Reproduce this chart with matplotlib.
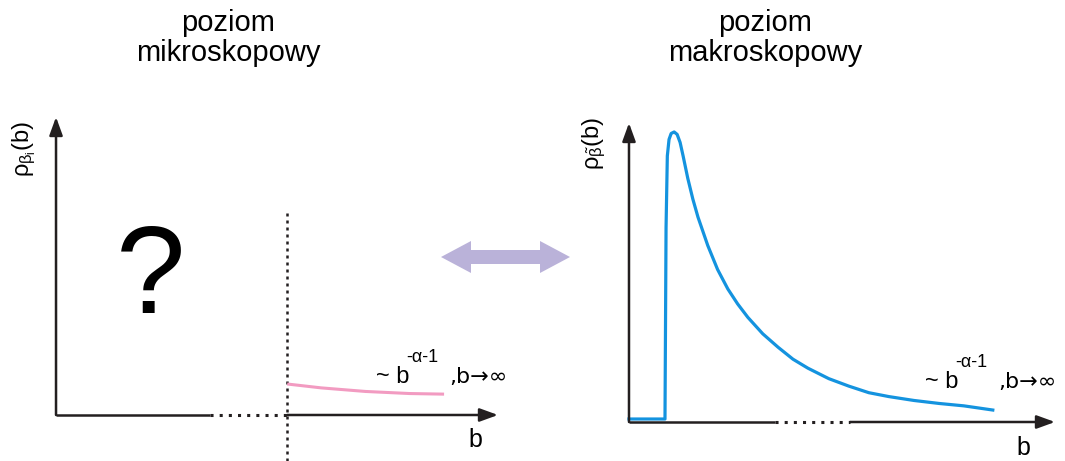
import numpy as np
import matplotlib
matplotlib.use("Agg")
import matplotlib.pyplot as plt
from matplotlib.patches import Polygon

plt.rcParams['font.family'] = ['Liberation Sans', 'DejaVu Sans']
plt.rcParams['mathtext.fontset'] = 'custom'
plt.rcParams['mathtext.rm'] = 'Liberation Sans'
plt.rcParams['mathtext.it'] = 'Liberation Sans'
plt.rcParams['mathtext.bf'] = 'Liberation Sans:bold'

# --- data (schematic units, 0..10 on both axes) ---
# microscopic level: only the tail is known
b_micro = [5.23, 6.0, 7.0, 8.0, 8.78]
rho_micro = [1.04, 0.91, 0.79, 0.72, 0.70]
b_cut = 5.23              # vertical dashed line
gap_micro = (3.48, 5.23)  # dotted part of the b axis

# macroscopic level: full distribution
b_macro = [0.0, 0.845, 0.87, 0.90, 0.94, 0.99, 1.06, 1.13, 1.20, 1.27, 1.38,
           1.50, 1.62, 1.85, 2.08, 2.32, 2.55, 2.79, 3.14, 3.50, 3.85, 4.20,
           4.69, 5.16, 5.63, 6.10, 6.69, 7.28, 7.86, 8.54]
rho_macro = [0.10, 0.10, 6.50, 8.90, 9.45, 9.65, 9.70, 9.62, 9.35, 8.90, 8.15,
             7.45, 6.85, 5.90, 5.10, 4.45, 3.95, 3.50, 2.95, 2.50, 2.10, 1.80,
             1.45, 1.20, 0.98, 0.85, 0.72, 0.62, 0.54, 0.40]
gap_macro = (3.43, 5.19)

AX_COL = '#231f20'
PINK = '#f29bc1'
BLUE = '#1493df'
LAV = '#bab2d9'

fig = plt.figure(figsize=(10.65, 4.61), dpi=100)

# overlay in pixel units for the double arrow and the texts
ov = fig.add_axes([0, 0, 1, 1])
ov.set_xlim(0, 1065)
ov.set_ylim(461, 0)
ov.axis('off')

ax1 = fig.add_axes([0.0526, 0.0998, 0.415, 0.6464])
ax2 = fig.add_axes([0.5906, 0.0846, 0.400, 0.6486])

arrow_kw = dict(arrowstyle='-|>,head_length=1.1,head_width=0.4', color=AX_COL,
                lw=1.8, shrinkA=0, shrinkB=0, mutation_scale=10)


def draw_axes(ax, gap):
    ax.set_xlim(0, 10)
    ax.set_ylim(0, 10)
    ax.axis('off')
    # y axis with arrow
    ax.annotate('', xy=(0, 10), xytext=(0, 0), arrowprops=arrow_kw,
                annotation_clip=False)
    # b axis: solid - dotted - solid with arrow
    ax.plot([0, gap[0]], [0, 0], color=AX_COL, lw=1.8, solid_capstyle='butt',
            clip_on=False)
    ax.plot([gap[0], gap[1]], [0, 0], color=AX_COL, lw=2.2,
            linestyle=(0, (1, 2.0)), clip_on=False)
    ax.annotate('', xy=(10, 0), xytext=(gap[1], 0), arrowprops=arrow_kw,
                annotation_clip=False)


draw_axes(ax1, gap_micro)
draw_axes(ax2, gap_macro)

# left panel
ax1.plot([b_cut, b_cut], [-1.55, 6.8], color=AX_COL, lw=1.8,
         linestyle=(0, (1.2, 1.6)), clip_on=False)
ax1.plot(b_micro, rho_micro, color=PINK, lw=2.2, solid_capstyle='butt',
         clip_on=False)
ax1.text(2.15, 4.5, '?', fontsize=90, ha='center', va='center')
ax1.text(9.48, -0.84, 'b', fontsize=18, ha='center', va='center')

# right panel
ax2.plot(b_macro, rho_macro, color=BLUE, lw=2.3, solid_joinstyle='round',
         clip_on=False)
ax2.text(9.25, -0.87, 'b', fontsize=18, ha='center', va='center')


def tail_label(x0, base):
    ov.text(x0, base, '~ b', fontsize=17, ha='left', va='baseline')
    ov.text(x0 + 30, base - 21, '-\u03b1-1', fontsize=13, ha='left',
            va='baseline')
    ov.text(x0 + 73, base, ',b\u2192\u221e', fontsize=16, ha='left',
            va='baseline', family=['DejaVu Sans'])


tail_label(376, 383)
tail_label(925, 388)

# y labels
ov.text(24, 149, r'$\rho_{\beta_i}$(b)', fontsize=17, rotation=90,
        ha='center', va='center')
ov.text(594, 143, r'$\rho_{\tilde{\beta}}$(b)', fontsize=17, rotation=90,
        ha='center', va='center')

# titles
ov.text(228, 38, 'poziom\nmikroskopowy', fontsize=21, ha='center',
        va='center', linespacing=1.05)
ov.text(765, 38, 'poziom\nmakroskopowy', fontsize=21, ha='center',
        va='center', linespacing=1.05)

# double arrow between panels
x_l, x_r, yc = 441, 570, 257
shaft, head_w, head_l = 7, 16, 30
ov.add_patch(Polygon([
    (x_l, yc), (x_l + head_l, yc - head_w), (x_l + head_l, yc - shaft),
    (x_r - head_l, yc - shaft), (x_r - head_l, yc - head_w), (x_r, yc),
    (x_r - head_l, yc + head_w), (x_r - head_l, yc + shaft),
    (x_l + head_l, yc + shaft), (x_l + head_l, yc + head_w)],
    closed=True, color=LAV, lw=0))

fig.savefig('out.png', dpi=100)
